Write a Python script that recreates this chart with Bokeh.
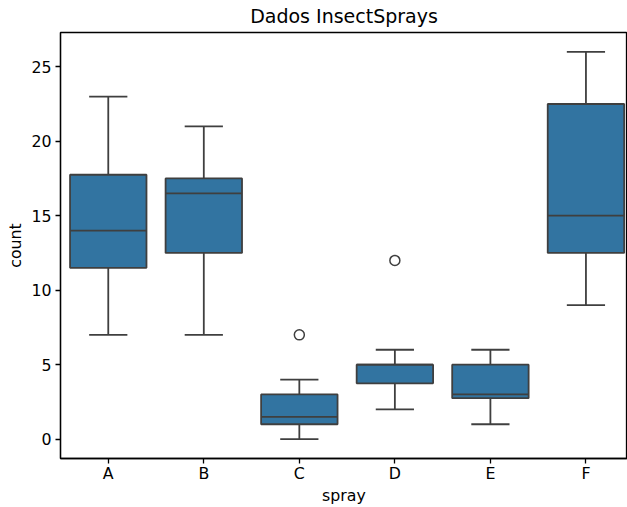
from bokeh.plotting import figure
from bokeh.models import FixedTicker, ColumnDataSource
from bokeh.embed import file_html
from bokeh.resources import INLINE

sprays = ["A", "B", "C", "D", "E", "F"]
lower_whisker = [7, 7, 0, 2, 1, 9]
q1 = [11.5, 12.5, 1.0, 3.75, 2.75, 12.5]
median = [14.0, 16.5, 1.5, 5.0, 3.0, 15.0]
q3 = [17.75, 17.5, 3.0, 5.0, 5.0, 22.5]
upper_whisker = [23, 21, 4, 6, 6, 26]
outlier_spray = ["C", "D"]
outlier_count = [7, 12]

pos = list(range(len(sprays)))
box_w = 0.8
cap_w = 0.4
line_col = "#3f3f3f"
fill_col = "#3274a1"
lw = 1.8

src = ColumnDataSource(dict(
    x=pos,
    x0=[i - box_w / 2 for i in pos], x1=[i + box_w / 2 for i in pos],
    c0=[i - cap_w / 2 for i in pos], c1=[i + cap_w / 2 for i in pos],
    lo=lower_whisker, q1=q1, med=median, q3=q3, hi=upper_whisker,
))
osrc = ColumnDataSource(dict(
    x=[sprays.index(s) for s in outlier_spray], y=outlier_count,
))

p = figure(width=627, height=507, output_backend="svg", toolbar_location=None,
           x_range=(-0.5, 5.435), y_range=(-1.3, 27.3),
           min_border_left=60, min_border_right=0, min_border_top=32,
           min_border_bottom=49, title="Dados InsectSprays")

# whiskers
p.segment(x0="x", y0="q3", x1="x", y1="hi", source=src, line_color=line_col, line_width=lw)
p.segment(x0="x", y0="lo", x1="x", y1="q1", source=src, line_color=line_col, line_width=lw)
p.segment(x0="c0", y0="hi", x1="c1", y1="hi", source=src, line_color=line_col, line_width=lw)
p.segment(x0="c0", y0="lo", x1="c1", y1="lo", source=src, line_color=line_col, line_width=lw)
# boxes
p.vbar(x="x", width=box_w, bottom="q1", top="q3", source=src,
       fill_color=fill_col, line_color=line_col, line_width=lw)
p.segment(x0="x0", y0="med", x1="x1", y1="med", source=src, line_color=line_col, line_width=lw)
# outliers
p.scatter(x="x", y="y", source=osrc, marker="circle", size=10,
          fill_color=None, line_color=line_col, line_width=1.5)

p.xgrid.visible = False
p.ygrid.visible = False
p.outline_line_color = "black"
p.outline_line_width = 1.3

p.xaxis.ticker = FixedTicker(ticks=pos)
p.xaxis.major_label_overrides = {i: s for i, s in zip(pos, sprays)}
p.yaxis.ticker = FixedTicker(ticks=[0, 5, 10, 15, 20, 25])

for ax in (p.xaxis, p.yaxis):
    ax.axis_line_color = "black"
    ax.axis_line_width = 1.3
    ax.major_tick_line_color = "black"
    ax.major_tick_line_width = 1.3
    ax.major_tick_in = 0
    ax.major_tick_out = 5
    ax.minor_tick_line_color = None
    ax.major_label_text_font = "DejaVu Sans"
    ax.major_label_text_font_size = "15.8px"
    ax.major_label_text_color = "black"
    ax.axis_label_text_font = "DejaVu Sans"
    ax.axis_label_text_font_size = "15.8px"
    ax.axis_label_text_font_style = "normal"
    ax.axis_label_text_color = "black"

p.xaxis.major_label_standoff = 0
p.yaxis.major_label_standoff = 4
p.xaxis.axis_label = "spray"
p.yaxis.axis_label = "count"
p.xaxis.axis_label_standoff = 0
p.yaxis.axis_label_standoff = 3

p.title.text_font = "DejaVu Sans"
p.title.text_font_size = "19px"
p.title.text_font_style = "normal"
p.title.align = "center"
p.title.vertical_align = "top"
p.title.text_color = "black"
p.title.offset = 0
p.title.standoff = 8

open("out.html", "w").write(file_html(p, INLINE))
